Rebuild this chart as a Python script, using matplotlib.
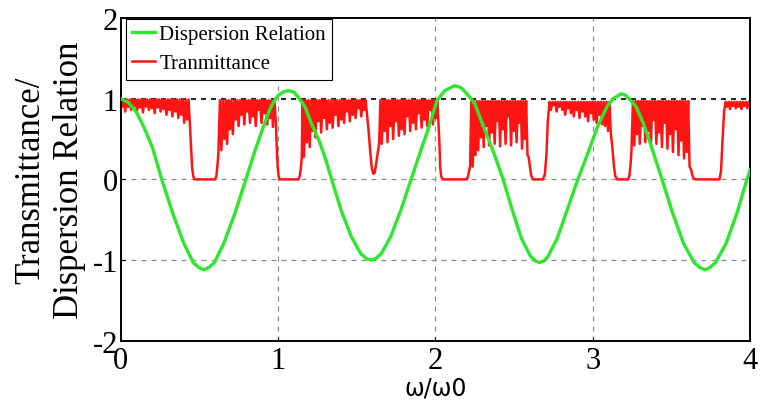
import numpy as np
import matplotlib
matplotlib.use("Agg")
import matplotlib.pyplot as plt

plt.rcParams["font.family"] = "Liberation Serif"
plt.rcParams["axes.unicode_minus"] = False

# dispersion relation cos(Kd) against normalised frequency
disp_x = [0.0, 0.05, 0.1, 0.15, 0.2, 0.26, 0.33, 0.4, 0.46, 0.495, 0.527, 0.56, 0.595,
          0.655, 0.725, 0.795, 0.85, 0.9, 0.95, 0.975, 1.0, 1.03, 1.064, 1.1, 1.135,
          1.17, 1.21, 1.26, 1.3, 1.34, 1.4, 1.465, 1.525, 1.56, 1.59, 1.62, 1.655,
          1.715, 1.78, 1.845, 1.9, 1.95, 2.01, 2.06, 2.12, 2.16, 2.2, 2.25, 2.29,
          2.365, 2.43, 2.49, 2.546, 2.604, 2.635, 2.66, 2.69, 2.716, 2.774, 2.835,
          2.905, 2.96, 3.03, 3.09, 3.13, 3.18, 3.21, 3.25, 3.275, 3.32, 3.36, 3.44,
          3.508, 3.576, 3.644, 3.68, 3.712, 3.745, 3.78, 3.848, 3.916, 3.98, 4.0]
disp_y = [1.0, 0.95, 0.83, 0.63, 0.4, 0.0, -0.42, -0.79, -1.03, -1.09, -1.12, -1.09, -1.03,
          -0.79, -0.42, 0.0, 0.34, 0.62, 0.88, 0.97, 1.04, 1.08, 1.1, 1.08, 1.0,
          0.9, 0.7, 0.48, 0.26, 0.0, -0.38, -0.71, -0.92, -0.98, -1.0, -0.98, -0.92,
          -0.71, -0.38, 0.0, 0.32, 0.6, 0.98, 1.1, 1.16, 1.14, 1.06, 0.94, 0.73,
          0.36, 0.0, -0.39, -0.73, -0.95, -1.01, -1.03, -1.01, -0.95, -0.73, -0.39,
          0.0, 0.28, 0.65, 0.9, 1.0, 1.06, 1.04, 0.96, 0.9, 0.7, 0.48, 0.0,
          -0.42, -0.79, -1.03, -1.09, -1.12, -1.09, -1.03, -0.79, -0.42, 0.0, 0.12]

# transmittance passbands: extent, peak level and successive trough values
band_start = [0.0, 0.63, 1.155, 1.65, 2.228, 2.725, 3.255, 3.845]
band_end = [0.44, 0.985, 1.565, 2.02, 2.585, 3.115, 3.615, 4.0]
band_peak = [0.99, 0.98, 0.98, 0.98, 0.97, 0.96, 0.97, 0.96]
band_troughs = [
    [0.9, 0.84, 0.9, 0.86, 0.91, 0.85, 0.89, 0.83, 0.9, 0.86, 0.88, 0.82,
     0.89, 0.84, 0.87, 0.8, 0.86, 0.78, 0.84, 0.76, 0.8, 0.7, 0.74, 0.64],
    [0.36, 0.5, 0.44, 0.62, 0.56, 0.74, 0.66, 0.8, 0.68, 0.84, 0.7, 0.78,
     0.66, 0.86, 0.7, 0.82, 0.68, 0.76, 0.65, 0.72],
    [0.28, 0.46, 0.4, 0.6, 0.52, 0.72, 0.58, 0.76, 0.62, 0.7, 0.64, 0.8,
     0.66, 0.74, 0.7, 0.84, 0.72, 0.8, 0.76, 0.88, 0.78, 0.86, 0.8],
    [0.44, 0.6, 0.46, 0.66, 0.5, 0.72, 0.54, 0.62, 0.56, 0.78, 0.6, 0.7,
     0.62, 0.82, 0.64, 0.74, 0.66, 0.86, 0.68, 0.76, 0.66],
    [0.16, 0.3, 0.36, 0.52, 0.4, 0.66, 0.42, 0.58, 0.44, 0.72, 0.41, 0.62,
     0.44, 0.78, 0.42, 0.6, 0.46, 0.7, 0.38, 0.5, 0.3],
    [0.86, 0.92, 0.84, 0.9, 0.86, 0.8, 0.88, 0.82, 0.78, 0.86, 0.76, 0.84,
     0.78, 0.72, 0.82, 0.74, 0.7, 0.8, 0.68, 0.66, 0.6, 0.56],
    [0.42, 0.56, 0.44, 0.66, 0.46, 0.6, 0.42, 0.74, 0.44, 0.58, 0.4, 0.7,
     0.38, 0.56, 0.34, 0.62, 0.3, 0.48, 0.26, 0.34, 0.16],
    [0.9, 0.87, 0.91, 0.88, 0.9, 0.87, 0.91, 0.88, 0.9],
]

# band gaps (and the narrow dip near 1.6) between the passbands
gap_x = [
    [0.447, 0.453, 0.46, 0.468, 0.6, 0.607, 0.613, 0.62],
    [0.99, 0.997, 1.003, 1.01, 1.13, 1.137, 1.143, 1.15],
    [1.575, 1.585, 1.595, 1.605, 1.613, 1.622, 1.632, 1.642],
    [2.025, 2.03, 2.036, 2.045, 2.2, 2.207, 2.213, 2.22],
    [2.592, 2.6, 2.608, 2.62, 2.682, 2.695, 2.705, 2.714],
    [3.125, 3.135, 3.143, 3.155, 3.225, 3.233, 3.24, 3.246],
    [3.625, 3.633, 3.642, 3.655, 3.805, 3.815, 3.825, 3.835],
]
gap_y = [
    [0.4, 0.15, 0.04, 0.0, 0.0, 0.04, 0.15, 0.32],
    [0.45, 0.15, 0.04, 0.0, 0.0, 0.04, 0.12, 0.26],
    [0.6, 0.35, 0.14, 0.07, 0.08, 0.18, 0.32, 0.44],
    [0.45, 0.15, 0.04, 0.0, 0.0, 0.04, 0.1, 0.16],
    [0.28, 0.16, 0.05, 0.0, 0.0, 0.06, 0.3, 0.72],
    [0.38, 0.15, 0.04, 0.0, 0.0, 0.05, 0.18, 0.36],
    [0.12, 0.05, 0.01, 0.0, 0.0, 0.1, 0.5, 0.85],
]

# stitch the transmittance trace together: peak/trough zigzag in each band
tx, ty = [], []
for i in range(len(band_start)):
    tr = band_troughs[i]
    xs = np.linspace(band_start[i], band_end[i], 2 * len(tr))
    for k, t in enumerate(tr):
        tx += [xs[2 * k], xs[2 * k + 1]]
        ty += [band_peak[i], t]
    if i < len(gap_x):
        tx += gap_x[i]
        ty += gap_y[i]

fig = plt.figure(figsize=(7.6, 4.1), dpi=100)
ax = fig.add_axes([0.159, 0.166, 0.828, 0.788])

for xv in [1, 2, 3]:
    ax.axvline(xv, color="#8c8c8c", lw=0.9, ls=(0, (4, 4)), zorder=1)
for yv in [-1, 0]:
    ax.axhline(yv, color="#8c8c8c", lw=0.9, ls=(0, (4, 4)), zorder=1)
ax.axhline(1, color="black", lw=1.2, ls=(0, (3, 3)), zorder=1)

lt, = ax.plot(tx, ty, color="#ff1414", lw=1.8, zorder=2)
ld, = ax.plot(disp_x, disp_y, color="#2ee62e", lw=2.4, zorder=3)

ax.set_xlim(0, 4)
ax.set_ylim(-2, 2)
ax.set_xticks([0, 1, 2, 3, 4])
ax.set_yticks([-2, -1, 0, 1, 2])
ax.tick_params(direction="in", length=3, labelsize=22, pad=2)
ax.tick_params(axis="x", pad=4)
for s in ax.spines.values():
    s.set_linewidth(1.4)

ax.set_xlabel("ω/ω0", family="DejaVu Sans", fontsize=17, labelpad=0)
ax.set_ylabel("Transmittance/\nDispersion Relation", fontsize=25, linespacing=1.2, labelpad=5)

leg = ax.legend([ld, lt], ["Dispersion Relation", "Tranmittance"], loc="upper left",
                bbox_to_anchor=(0.008, 0.998), borderaxespad=0, fontsize=15,
                handlelength=1.1, handletextpad=0.2, labelspacing=0.45, borderpad=0.3,
                fancybox=False, framealpha=1)
leg.get_frame().set_edgecolor("black")
leg.get_frame().set_linewidth(0.8)

fig.savefig("out.png", dpi=100)
